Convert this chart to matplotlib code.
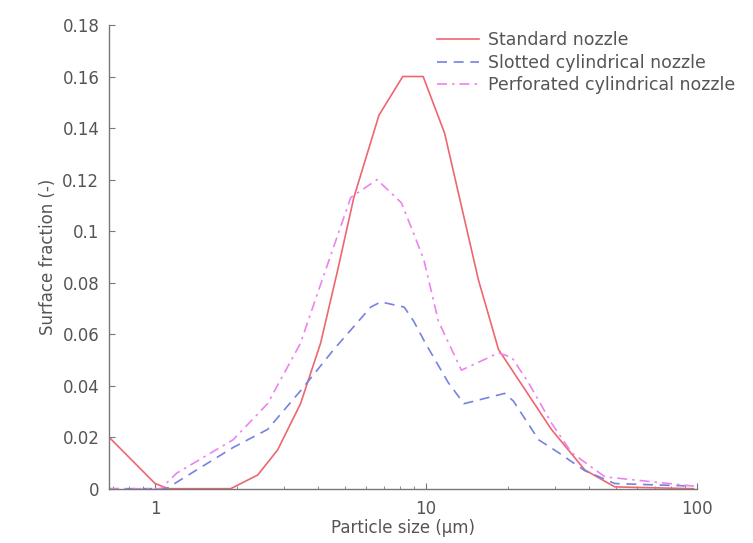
import matplotlib
matplotlib.use("Agg")
import matplotlib.pyplot as plt
from matplotlib.ticker import LogLocator, NullFormatter

# surface fraction vs particle size, three nozzle types
x_standard = [0.676, 1.0, 1.12, 1.9, 2.39, 2.83, 3.44, 4.08, 4.72, 5.41, 6.7, 8.2, 9.75,
              11.7, 15.6, 18.5, 29, 38.5, 49.7, 97]
y_standard = [0.020, 0.002, 0.0, 0.0, 0.0053, 0.015, 0.033, 0.0565, 0.085, 0.113, 0.145, 0.160, 0.160,
              0.138, 0.081, 0.054, 0.023, 0.0073, 0.0007, 0.0]

x_slotted = [0.676, 1.1, 1.24, 1.94, 2.6, 3.44, 4.56, 6.25, 6.8, 8.3, 9.0, 10, 12.1, 13.8,
             19.5, 21, 26, 30.8, 38.5, 49.7, 97]
y_slotted = [0.0, 0.0, 0.0034, 0.016, 0.023, 0.038, 0.054, 0.0705, 0.0725, 0.0705, 0.065, 0.056, 0.041, 0.033,
             0.037, 0.034, 0.019, 0.014, 0.007, 0.002, 0.001]

x_perforated = [0.676, 1.05, 1.2, 1.94, 2.6, 3.44, 3.98, 5.27, 6.6, 6.8, 8.1, 9.0, 9.8, 11.1, 13.5,
                18.5, 20.7, 23.9, 29, 34.4, 45.7, 97]
y_perforated = [0.0, 0.0, 0.006, 0.019, 0.033, 0.0565, 0.076, 0.113, 0.120, 0.1186, 0.111, 0.099, 0.089, 0.065, 0.046,
                0.0527, 0.051, 0.041, 0.0255, 0.014, 0.0046, 0.001]

labels = ["Standard nozzle", "Slotted cylindrical nozzle", "Perforated cylindrical nozzle"]
y_ticks = [0, 0.02, 0.04, 0.06, 0.08, 0.1, 0.12, 0.14, 0.16, 0.18]
y_tick_labels = ["0", "0.02", "0.04", "0.06", "0.08", "0.1", "0.12", "0.14", "0.16", "0.18"]
x_ticks = [1, 10, 100]
x_tick_labels = ["1", "10", "100"]

text_col = "#555555"
plt.rcParams['font.family'] = ['DejaVu Sans']

fig = plt.figure(figsize=(7.53, 5.43), dpi=100)
ax = fig.add_axes([0.1448, 0.100, 0.781, 0.854])

ax.plot(x_standard, y_standard, color="#ee6670", lw=1.2, label=labels[0])
ax.plot(x_slotted, y_slotted, color="#7782e0", lw=1.2, ls=(0, (6, 4)), label=labels[1])
ax.plot(x_perforated, y_perforated, color="#ee82ee", lw=1.2, ls=(0, (6, 3, 1.5, 3)), label=labels[2])

ax.set_xscale("log")
ax.set_xlim(0.676, 100)
ax.set_ylim(0, 0.18)
ax.set_xticks(x_ticks)
ax.set_xticklabels(x_tick_labels)
ax.xaxis.set_minor_locator(LogLocator(base=10, subs=range(2, 10)))
ax.xaxis.set_minor_formatter(NullFormatter())
ax.set_yticks(y_ticks)
ax.set_yticklabels(y_tick_labels)

for s in ["top", "right"]:
    ax.spines[s].set_visible(False)
for s in ["left", "bottom"]:
    ax.spines[s].set_color("#777777")
    ax.spines[s].set_linewidth(1.0)

ax.tick_params(which="both", direction="in", colors="#777777", labelcolor=text_col, labelsize=12)
ax.tick_params(which="major", length=4)
ax.tick_params(which="minor", length=2.5)
ax.tick_params(axis="y", pad=7)
ax.tick_params(axis="x", pad=8)

ax.set_xlabel("Particle size (µm)", fontsize=12, color=text_col, labelpad=1)
ax.set_ylabel("Surface fraction (-)", fontsize=12, color=text_col, labelpad=4)

leg = ax.legend(loc="upper left", bbox_to_anchor=(0.558, 0.986), frameon=False, fontsize=12.5,
                handlelength=2.4, handletextpad=0.5, labelspacing=0.25, borderaxespad=0, borderpad=0)
for t in leg.get_texts():
    t.set_color(text_col)

fig.savefig("out.png", dpi=100)
